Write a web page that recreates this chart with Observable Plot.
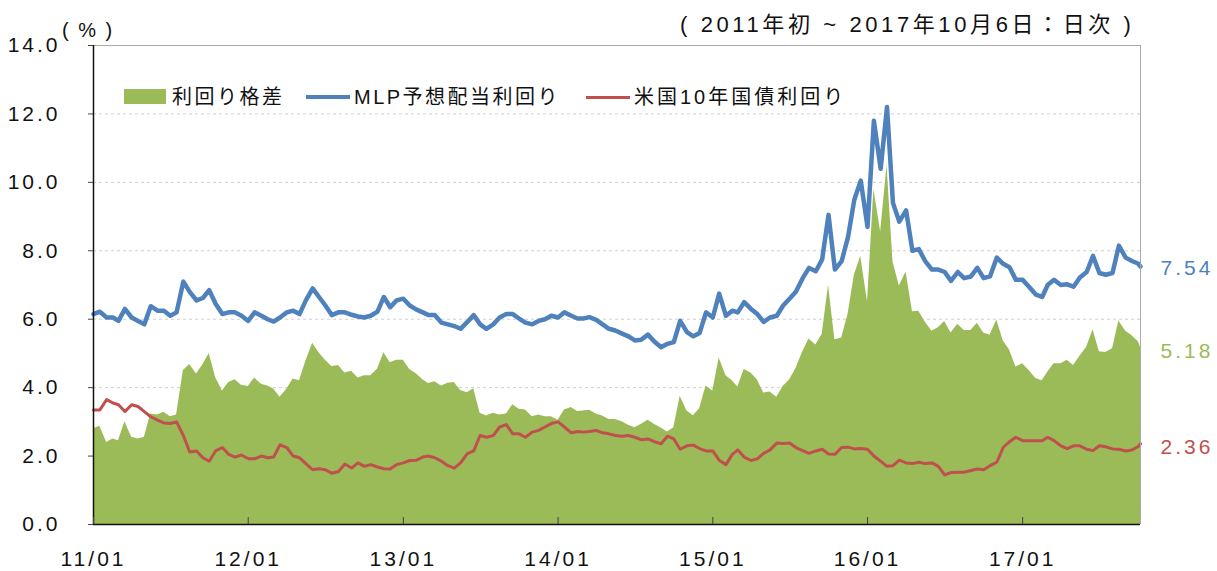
<!DOCTYPE html>
<html><head><meta charset="utf-8">
<script src="https://cdn.jsdelivr.net/npm/d3@7"></script>
<script src="https://cdn.jsdelivr.net/npm/@observablehq/plot@0.6"></script>
<style>
body{margin:0;background:#fff;}
#wrap{position:relative;width:1217px;height:571px;font-family:"Liberation Sans","Noto Sans CJK JP",sans-serif;color:#111;}
.t{position:absolute;white-space:nowrap;font-size:20px;line-height:20px;}
</style></head><body>
<div id="wrap"></div>
<script>
// MLP forecast dividend yield (%), semi-monthly samples (1st & 16th), last = 2017-10-06
const mlp2011 = [6.15,6.22,6.05,6.05,5.95,6.3,6.05,5.95,5.85,6.38,6.25,6.25,6.1,6.2,7.1,6.8,6.55,6.62,6.85,6.45,6.15,6.2,6.2,6.1];
const mlp2012 = [5.95,6.2,6.1,6.0,5.93,6.05,6.2,6.25,6.15,6.55,6.9,6.65,6.4,6.12,6.2,6.2,6.13,6.08,6.05,6.1,6.22,6.65,6.35,6.55];
const mlp2013 = [6.6,6.4,6.28,6.2,6.12,6.12,5.9,5.85,5.8,5.72,5.92,6.12,5.85,5.72,5.85,6.05,6.15,6.15,6.02,5.9,5.85,5.95,6.0,6.1];
const mlp2014 = [6.05,6.2,6.1,6.02,6.02,6.06,5.98,5.85,5.72,5.67,5.58,5.5,5.38,5.4,5.55,5.35,5.18,5.28,5.33,5.95,5.62,5.5,5.6,6.2];
const mlp2015 = [6.05,6.75,6.1,6.25,6.2,6.5,6.3,6.15,5.92,6.05,6.1,6.4,6.6,6.8,7.2,7.5,7.4,7.75,9.05,7.45,7.7,8.4,9.5,10.05];
const mlp2016 = [8.7,11.8,10.4,12.2,9.4,8.85,9.18,8.0,8.05,7.7,7.45,7.45,7.38,7.12,7.38,7.2,7.25,7.5,7.2,7.25,7.8,7.62,7.52,7.15];
const mlp2017 = [7.15,6.95,6.72,6.65,7.0,7.15,7.0,7.02,6.95,7.22,7.38,7.85,7.35,7.3,7.35,8.15,7.8,7.7,7.62,7.54];
// US 10-year Treasury yield (%)
const ust2011 = [3.35,3.35,3.65,3.55,3.5,3.3,3.5,3.45,3.3,3.15,3.05,2.97,2.95,3.0,2.6,2.12,2.15,1.95,1.85,2.15,2.25,2.05,1.97,2.03];
const ust2012 = [1.92,1.92,2.0,1.95,1.97,2.33,2.25,2.0,1.95,1.78,1.6,1.63,1.6,1.5,1.55,1.77,1.65,1.8,1.7,1.75,1.68,1.63,1.62,1.75];
const ust2013 = [1.8,1.87,1.88,1.97,2.0,1.95,1.85,1.72,1.65,1.8,2.07,2.15,2.6,2.55,2.6,2.85,2.92,2.65,2.65,2.55,2.7,2.75,2.85,2.95];
const ust2014 = [3.0,2.85,2.68,2.72,2.7,2.72,2.75,2.68,2.65,2.6,2.58,2.6,2.55,2.48,2.5,2.42,2.36,2.58,2.5,2.2,2.3,2.32,2.22,2.15];
const ust2015 = [2.15,1.88,1.75,2.05,2.18,1.97,1.87,1.92,2.08,2.18,2.38,2.37,2.38,2.25,2.16,2.08,2.15,2.2,2.06,2.05,2.25,2.26,2.21,2.22];
const ust2016 = [2.2,2.0,1.85,1.7,1.72,1.88,1.8,1.78,1.82,1.78,1.8,1.7,1.45,1.52,1.53,1.53,1.58,1.62,1.6,1.72,1.82,2.25,2.42,2.55];
const ust2017 = [2.45,2.45,2.45,2.45,2.55,2.45,2.3,2.22,2.3,2.3,2.2,2.16,2.3,2.27,2.21,2.2,2.15,2.18,2.28,2.36];

const yTicks = [0,2,4,6,8,10,12,14];
const xTickYears = ["2011-01-01","2012-01-01","2013-01-01","2014-01-01","2015-01-01","2016-01-01","2017-01-01"];
const startDate = "2011-01-01", endDate = "2017-10-06";

const mlp = [...mlp2011,...mlp2012,...mlp2013,...mlp2014,...mlp2015,...mlp2016,...mlp2017];
const ust = [...ust2011,...ust2012,...ust2013,...ust2014,...ust2015,...ust2016,...ust2017];
const dates = [];
for (let y = 2011; y <= 2017; y++) for (let m = 0; m < 12; m++) for (const d of [1,16]) {
  if (dates.length < mlp.length - 1) dates.push(new Date(Date.UTC(y, m, d)));
}
dates.push(new Date(endDate));
const data = dates.map((date, i) => ({date, mlp: mlp[i], ust: ust[i], spread: +(mlp[i] - ust[i]).toFixed(2)}));
const last = data[data.length - 1];

const BLUE = "#4F81BD", RED = "#C0504D", GREEN = "#9BBB59";

const chart = Plot.plot({
  width: 1217, height: 571,
  marginLeft: 93, marginRight: 77, marginTop: 45, marginBottom: 47,
  style: {fontFamily: '"Liberation Sans","Noto Sans CJK JP",sans-serif', fontSize: "21px", color: "#111", background: "#fff"},
  x: {type: "utc", domain: [new Date(startDate), new Date(endDate)]},
  y: {domain: [0, 14]},
  marks: [
    Plot.gridY(yTicks.filter(d => d > 0 && d < 14), {stroke: "#cfcfcf", strokeOpacity: 1, strokeDasharray: "3,3"}),
    Plot.areaY(data, {x: "date", y: "spread", fill: GREEN}),
    Plot.line(data, {x: "date", y: "ust", stroke: RED, strokeWidth: 3}),
    Plot.line(data, {x: "date", y: "mlp", stroke: BLUE, strokeWidth: 4.5}),
    Plot.ruleY([14], {stroke: "#aaa"}),
    Plot.ruleX([new Date(endDate)], {stroke: "#aaa"}),
    Plot.ruleX([new Date(startDate)], {stroke: "#111", strokeWidth: 1.5}),
    Plot.ruleY([0], {stroke: "#111", strokeWidth: 1.5}),
    Plot.axisY(yTicks, {tickFormat: d => d.toFixed(1), tickSize: 5, tickPadding: 28, stroke: "#444", label: null}),
    Plot.axisX(xTickYears.map(d => new Date(d)), {tickFormat: d3.utcFormat("%y/%m"), tickSize: -7, tickPadding: 34, stroke: "#444", label: null}),
    Plot.text([last], {x: "date", y: "mlp", text: d => d.mlp.toFixed(2), fill: BLUE, dx: 20, dy: 2, textAnchor: "start", fontSize: 21}),
    Plot.text([last], {x: "date", y: "spread", text: d => d.spread.toFixed(2), fill: GREEN, dx: 20, dy: 4, textAnchor: "start", fontSize: 21}),
    Plot.text([last], {x: "date", y: "ust", text: d => d.ust.toFixed(2), fill: RED, dx: 20, dy: 4, textAnchor: "start", fontSize: 21})
  ]
});
chart.style.position = "absolute"; chart.style.left = "0"; chart.style.top = "0";
chart.style.letterSpacing = "3px";
const wrap = document.getElementById("wrap");
wrap.appendChild(chart);

function addText(txt, left, top, extra) {
  const d = document.createElement("div");
  d.className = "t"; d.textContent = txt;
  d.style.left = left + "px"; d.style.top = top + "px";
  Object.assign(d.style, extra || {});
  wrap.appendChild(d); return d;
}
function addBox(left, top, w, h, color) {
  const d = document.createElement("div");
  Object.assign(d.style, {position: "absolute", left: left + "px", top: top + "px", width: w + "px", height: h + "px", background: color});
  wrap.appendChild(d);
}
// title & unit
const title = addText("( 2011年初 ~ 2017年10月6日：日次 )", 0, 14, {fontSize: "22px", lineHeight: "22px", letterSpacing: "3.6px"});
title.style.left = (1135 - title.offsetWidth) + "px";
addText("( % )", 62, 20, {fontSize: "20px", letterSpacing: "2px"});
// legend
addBox(124, 89, 42, 15, GREEN);
addText("利回り格差", 172, 87, {letterSpacing: "2.5px"});
addBox(306, 95, 44, 4, BLUE);
addText("MLP予想配当利回り", 354, 87, {letterSpacing: "2.5px"});
addBox(586, 96, 44, 3, RED);
addText("米国10年国債利回り", 634, 87, {letterSpacing: "3px"});
</script>
</body></html>
